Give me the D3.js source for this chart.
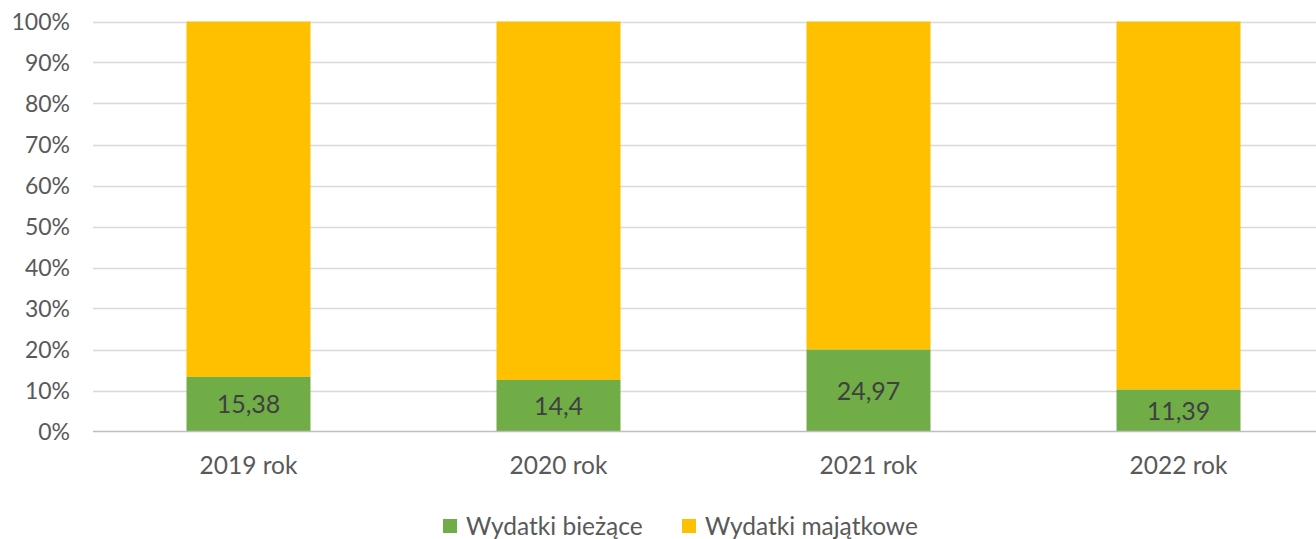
<!DOCTYPE html>
<html>
<head>
<meta charset="utf-8">
<script src="https://cdn.jsdelivr.net/npm/d3@7"></script>
<style>
  body { margin: 0; background: #fff; }
  svg { display: block; font-family: Lato, "Liberation Sans", sans-serif; }
</style>
</head>
<body>
<div id="chart"></div>
<script>
// chart data
var years = ["2019 rok", "2020 rok", "2021 rok", "2022 rok"];
var biezace = [15.38, 14.4, 24.97, 11.39];     // green, labelled
var majatkowe = [100, 100, 100, 100];          // yellow
var seriesNames = ["Wydatki bieżące", "Wydatki majątkowe"];
var colors = ["#70ad47", "#ffc000"];
var yTicks = [0, 0.1, 0.2, 0.3, 0.4, 0.5, 0.6, 0.7, 0.8, 0.9, 1];

var width = 1316, height = 539;

var svg = d3.select("#chart").append("svg")
    .attr("width", width)
    .attr("height", height);

// plot area runs past the right edge of the picture
var x = d3.scaleBand()
    .domain(years)
    .range([93.5, 1333.5])
    .paddingInner(0.6)
    .paddingOuter(0.3);

var y = d3.scaleLinear()
    .domain([0, 1])
    .range([431.5, 21.5]);

// gridlines + tick labels
svg.append("g").selectAll("line")
    .data(yTicks.slice(1))
    .enter().append("line")
    .attr("x1", 93).attr("x2", width)
    .attr("y1", d => Math.round(y(d)) + 0.5)
    .attr("y2", d => Math.round(y(d)) + 0.5)
    .style("stroke", "#d9d9d9")
    .style("stroke-width", 1.5);

svg.append("g").selectAll("text")
    .data(yTicks)
    .enter().append("text")
    .attr("x", 70)
    .attr("y", d => y(d))
    .attr("dy", "0.36em")
    .attr("text-anchor", "end")
    .style("font-size", "23px")
    .style("fill", "#595959")
    .text(d3.format(".0%"));

// stack data
var table = years.map(function (yr, i) {
    var total = biezace[i] + majatkowe[i];
    return { year: yr, b: biezace[i], s0: biezace[i] / total, s1: 1 };
});

var bars = svg.append("g");
bars.selectAll("rect.maj")
    .data(table)
    .enter().append("rect")
    .attr("class", "maj")
    .attr("x", d => x(d.year))
    .attr("width", x.bandwidth())
    .attr("y", d => y(d.s1))
    .attr("height", d => y(d.s0) - y(d.s1))
    .style("fill", colors[1]);

bars.selectAll("rect.bie")
    .data(table)
    .enter().append("rect")
    .attr("class", "bie")
    .attr("x", d => x(d.year))
    .attr("width", x.bandwidth())
    .attr("y", d => y(d.s0))
    .attr("height", d => y(0) - y(d.s0))
    .style("fill", colors[0]);

// labels inside green part
bars.selectAll("text")
    .data(table)
    .enter().append("text")
    .attr("x", d => x(d.year) + x.bandwidth() / 2)
    .attr("y", d => (y(0) + y(d.s0)) / 2)
    .attr("dy", "0.36em")
    .attr("text-anchor", "middle")
    .style("font-size", "25px")
    .style("fill", "#404040")
    .text(d => String(d.b).replace(".", ","));

// axis line
svg.append("line")
    .attr("x1", 93).attr("x2", width)
    .attr("y1", y(0)).attr("y2", y(0))
    .style("stroke", "#bfbfbf")
    .style("stroke-width", 1.5);

// category labels
svg.append("g").selectAll("text")
    .data(years)
    .enter().append("text")
    .attr("x", d => x(d) + x.bandwidth() / 2)
    .attr("y", 474)
    .attr("text-anchor", "middle")
    .style("font-size", "24.5px")
    .style("fill", "#595959")
    .text(d => d);

// legend
var legendX = [443, 682];
var legend = svg.append("g").selectAll("g")
    .data(seriesNames)
    .enter().append("g")
    .attr("transform", (d, i) => "translate(" + legendX[i] + ",519)");
legend.append("rect")
    .attr("width", 14).attr("height", 14)
    .style("fill", (d, i) => colors[i]);
legend.append("text")
    .attr("x", 23)
    .attr("y", 7)
    .attr("dy", "0.36em")
    .style("font-size", "24.5px")
    .style("fill", "#595959")
    .text(d => d);
</script>
</body>
</html>
